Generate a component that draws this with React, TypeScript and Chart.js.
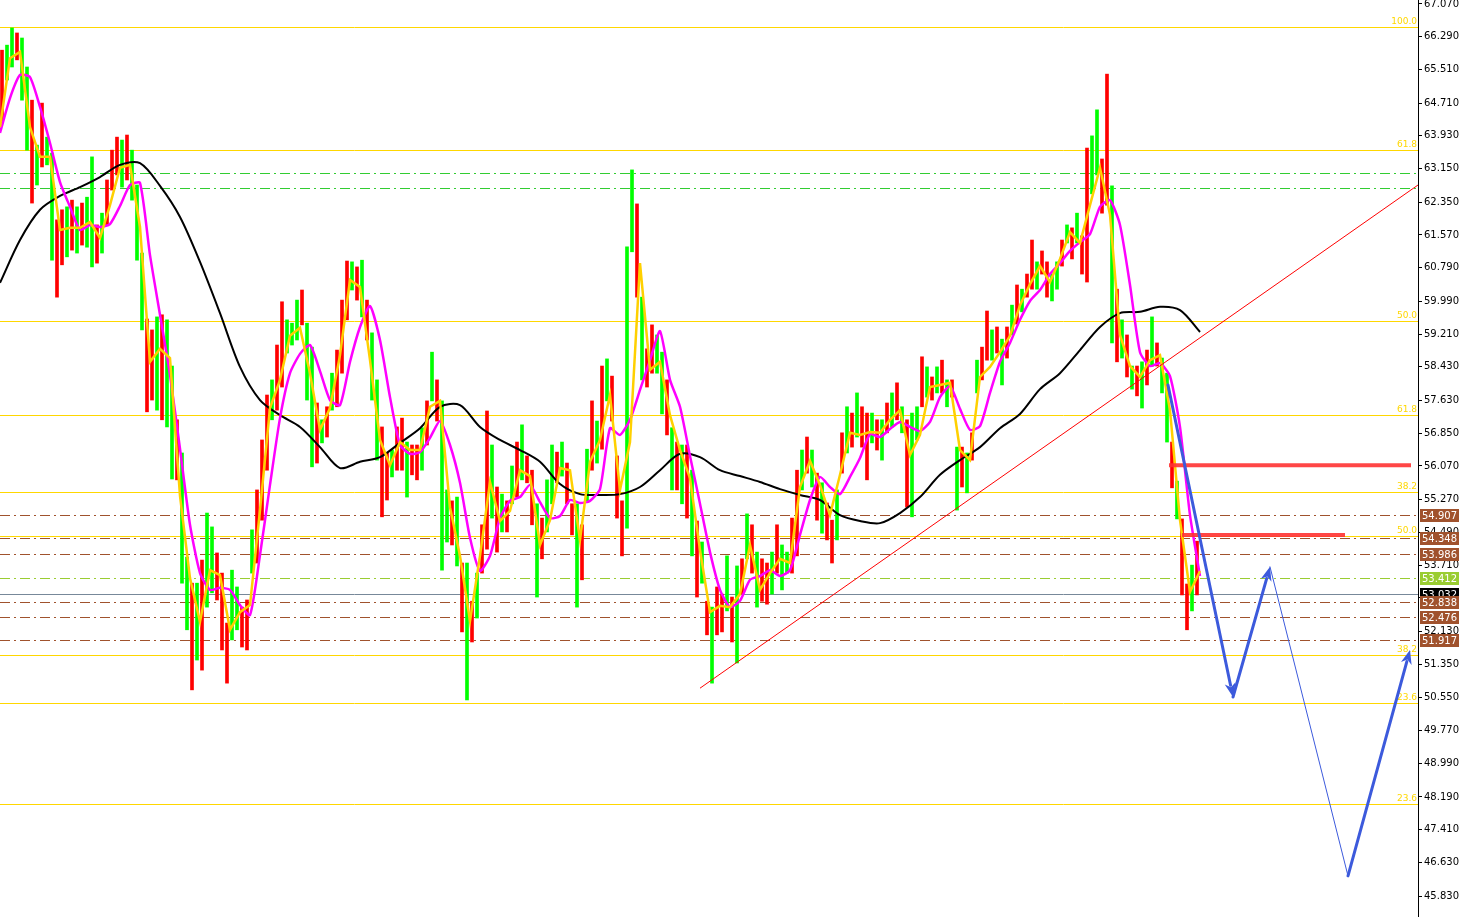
import React, { useEffect, useRef } from "react";
import { Chart, registerables } from "chart.js";
Chart.register(...registerables);

// ---- price bars (one bar per slot, slot width = 5 px in the reference) ----
const barHigh = [
  65.97, 66.09, 66.50, 66.38, 66.26, 65.57, 64.78, 63.71, 64.71, 63.90,
  63.52, 61.93, 62.17, 62.24, 62.40, 62.24, 62.33, 62.47, 63.43, 61.81,
  62.09, 62.88, 63.59, 63.90, 63.83, 63.95, 63.59, 62.76, 61.14, 59.57,
  59.31, 59.62, 59.67, 59.55, 58.45, 57.17, 56.38, 53.90, 53.28, 53.28,
  53.83, 54.95, 54.62, 54.00, 53.52, 52.33, 53.59, 53.19, 52.71, 52.88,
  54.55, 55.50, 56.69, 57.76, 58.12, 58.95, 59.98, 59.55, 59.47, 60.02,
  60.26, 59.47, 58.90, 57.57, 57.17, 57.48, 58.28, 58.83, 60.02, 60.95,
  60.93, 60.81, 60.97, 60.02, 59.24, 58.12, 57.00, 56.38, 56.45, 57.00,
  57.21, 56.64, 56.57, 56.57, 56.98, 57.62, 58.78, 58.12, 57.62, 55.50,
  55.24, 55.33, 53.76, 53.76, 52.85, 53.52, 54.67, 57.38, 56.57, 55.57,
  55.40, 55.24, 56.07, 56.64, 57.05, 56.31, 55.97, 55.17, 54.83, 55.74,
  56.57, 56.40, 56.64, 56.14, 55.17, 55.17, 54.67, 56.47, 57.62, 57.14,
  58.45, 58.62, 58.21, 56.31, 55.24, 61.29, 63.12, 62.31, 60.09, 58.86,
  59.43, 59.19, 58.78, 58.12, 56.98, 56.64, 56.57, 56.57, 55.97, 54.76,
  54.26, 52.85, 52.71, 53.19, 53.02, 53.93, 52.95, 53.69, 53.86, 54.93,
  54.67, 54.02, 53.86, 53.76, 54.02, 54.67, 54.19, 54.02, 54.83, 55.97,
  56.45, 56.76, 56.45, 55.90, 55.67, 55.19, 54.78, 55.50, 56.86, 57.48,
  57.33, 57.81, 57.48, 57.33, 57.33, 57.17, 57.17, 57.57, 57.81, 58.05,
  57.48, 57.17, 57.33, 57.48, 58.67, 58.43, 58.19, 58.43, 58.59, 58.12,
  58.12, 56.52, 56.52, 56.38, 56.86, 58.59, 58.90, 59.76, 59.31, 59.38,
  59.09, 59.38, 59.90, 60.38, 60.28, 60.64, 61.45, 60.93, 61.19, 60.93,
  60.64, 60.93, 61.45, 61.81, 61.74, 62.09, 61.55, 63.64, 63.93, 64.55,
  63.38, 65.40, 62.74, 60.28, 59.55, 59.19, 58.45, 58.45, 58.55, 58.83,
  59.62, 59.00, 58.64, 58.28, 56.64, 55.71, 54.81, 53.26, 53.71, 54.28,
];
const barLow = [
  64.24, 65.26, 65.57, 65.74, 64.78, 63.59, 62.33, 62.76, 63.19, 63.24,
  60.97, 60.09, 60.86, 61.05, 61.21, 61.14, 61.33, 61.28, 60.81, 60.90,
  61.14, 61.81, 62.64, 63.00, 62.71, 62.88, 62.40, 60.97, 59.31, 57.36,
  57.64, 57.40, 57.17, 57.00, 55.76, 55.74, 53.28, 52.17, 50.74, 51.45,
  51.21, 52.71, 53.05, 52.88, 51.69, 50.90, 51.93, 52.17, 51.76, 51.69,
  53.52, 53.76, 54.78, 55.97, 57.17, 57.40, 57.95, 58.76, 58.95, 59.07,
  59.43, 57.64, 56.05, 56.14, 56.62, 56.76, 57.40, 57.48, 58.28, 59.55,
  60.26, 60.02, 59.62, 59.07, 57.64, 56.21, 54.86, 55.26, 55.81, 55.97,
  55.97, 55.33, 55.86, 55.74, 55.97, 56.57, 57.62, 57.14, 53.59, 54.26,
  54.19, 53.69, 52.12, 50.50, 51.88, 52.45, 53.52, 54.09, 54.83, 54.02,
  54.50, 54.50, 55.17, 55.33, 55.74, 55.67, 54.67, 52.95, 53.86, 54.50,
  55.17, 55.67, 55.83, 55.17, 54.43, 52.71, 53.36, 55.24, 55.97, 56.14,
  56.47, 57.62, 57.14, 54.83, 53.93, 54.59, 61.17, 60.09, 58.12, 57.95,
  58.28, 58.28, 57.31, 56.81, 55.50, 55.50, 55.17, 54.83, 53.93, 52.95,
  53.28, 52.05, 50.90, 52.05, 52.12, 52.62, 51.88, 51.38, 53.02, 53.86,
  53.52, 52.71, 52.85, 52.78, 53.02, 53.52, 53.12, 53.52, 53.52, 53.93,
  55.50, 55.90, 55.57, 54.78, 54.47, 54.31, 53.76, 54.31, 55.90, 56.38,
  56.52, 56.76, 56.52, 55.74, 56.62, 56.45, 56.21, 56.86, 57.00, 57.17,
  56.86, 55.09, 54.86, 56.69, 57.48, 57.71, 57.64, 57.81, 57.81, 57.48,
  57.71, 55.02, 55.57, 55.43, 56.21, 57.81, 58.12, 58.59, 58.59, 58.76,
  58.00, 58.64, 59.19, 59.45, 59.74, 60.09, 60.28, 60.28, 60.64, 60.09,
  60.00, 60.28, 60.83, 61.38, 61.00, 61.38, 60.64, 60.45, 62.55, 63.00,
  62.09, 62.28, 59.00, 58.55, 58.64, 58.19, 57.90, 57.74, 57.45, 58.00,
  58.45, 58.45, 57.81, 56.64, 55.55, 54.81, 53.00, 52.17, 52.62, 53.00,
];
// u = up bar (green), d = down bar (red)
const barDir =
  "duuduududu" + "uddududuud" + "uddduduuud" + "duduuduudu" +
  "duuddduudd" + "udddudduuu" + "duudududdd" + "ududuuddud" +
  "duddududuu" + "dudududdud" + "udududdudu" + "ududdududu" +
  "duddduudud" + "duudududud" + "ududdududu" + "dudduduudd" +
  "udududdudu" + "duddududud" + "uduudududu" + "dudududdud" +
  "udududdudd" + "uudududduu" + "ddudududud" + "uduududdud";

// ---- moving averages (yellow & magenta every 2 slots, black every 4 slots) ----
const yellowMA = [
  64.14, 65.78, 65.93, 64.14, 63.43, 63.43, 61.69, 61.74, 61.74, 61.88,
  61.50, 62.28, 63.17, 63.24, 61.76, 58.55, 58.86, 58.64, 55.36, 53.40,
  52.36, 53.59, 53.47, 52.17, 52.59, 52.76, 55.02, 57.45, 58.12, 59.17,
  59.36, 58.28, 56.93, 57.45, 58.71, 60.50, 60.33, 58.59, 56.69, 56.09,
  56.64, 56.45, 56.45, 57.48, 57.62, 55.09, 53.93, 52.38, 53.93, 55.69,
  54.76, 55.00, 55.97, 55.83, 54.19, 54.78, 56.02, 55.97, 54.31, 56.17,
  56.69, 57.76, 55.50, 56.64, 60.90, 58.36, 58.55, 57.28, 56.45, 55.78,
  54.07, 52.59, 52.74, 52.71, 53.02, 54.19, 53.12, 53.52, 53.86, 53.76,
  55.57, 56.19, 55.62, 54.90, 55.86, 56.86, 56.81, 56.88, 56.86, 57.17,
  57.40, 56.33, 56.81, 57.95, 58.00, 58.05, 56.45, 56.21, 58.19, 58.43,
  58.78, 59.17, 59.90, 60.40, 60.83, 60.45, 61.00, 61.64, 61.38, 62.28,
  63.17, 62.05, 59.19, 58.45, 58.19, 58.59, 58.71, 57.40, 54.78, 53.07,
  53.57,
];
const magentaMA = [
  64.00, 64.83, 65.38, 65.33, 64.62, 63.76, 62.83, 62.24, 61.69, 61.81,
  61.76, 61.83, 62.26, 62.76, 62.81, 61.09, 59.67, 58.24, 56.48, 54.67,
  53.52, 53.12, 53.17, 53.12, 52.76, 52.52, 53.95, 55.62, 57.21, 58.28,
  58.74, 58.95, 58.33, 57.64, 57.52, 58.55, 59.38, 59.88, 59.07, 57.71,
  56.57, 56.36, 56.40, 56.74, 57.14, 56.57, 55.67, 54.36, 53.57, 53.93,
  54.83, 55.24, 55.33, 55.62, 55.21, 54.83, 54.88, 55.26, 55.19, 55.24,
  55.52, 56.97, 56.81, 57.17, 57.88, 58.59, 59.28, 58.12, 57.48, 56.31,
  55.17, 54.02, 53.12, 52.71, 52.86, 53.36, 53.45, 53.59, 53.45, 53.59,
  54.43, 55.26, 55.81, 55.57, 55.40, 55.81, 56.26, 56.83, 56.76, 56.95,
  57.12, 57.00, 56.90, 57.12, 57.71, 57.97, 57.43, 56.93, 57.02, 57.81,
  58.55, 59.00, 59.55, 60.00, 60.26, 60.64, 60.90, 61.19, 61.40, 61.59,
  62.24, 62.40, 61.81, 60.38, 58.78, 58.45, 58.52, 58.21, 57.00, 54.90,
  53.45,
];
const blackMA = [
  60.43, 61.45, 62.17, 62.50, 62.71, 62.95, 63.24, 63.28, 62.74, 62.00,
  60.93, 59.71, 58.43, 57.64, 57.28, 57.00, 56.52, 56.02, 56.17, 56.28,
  56.62, 56.97, 57.48, 57.52, 57.00, 56.69, 56.45, 56.17, 55.64, 55.40,
  55.38, 55.40, 55.57, 55.97, 56.36, 56.28, 55.97, 55.83, 55.69, 55.52,
  55.38, 55.26, 54.90, 54.76, 54.71, 54.95, 55.33, 55.86, 56.21, 56.52,
  56.97, 57.31, 57.90, 58.28, 58.83, 59.38, 59.71, 59.74, 59.86, 59.78,
  59.26,
];

// ---- axis ----
const yTicks = [
  67.07, 66.29, 65.51, 64.71, 63.93, 63.15, 62.35, 61.57, 60.79, 59.99,
  59.21, 58.43, 57.63, 56.85, 56.07, 55.27, 54.49, 53.71, 52.93, 52.13,
  51.35, 50.55, 49.77, 48.99, 48.19, 47.41, 46.63, 45.83,
];
const yMin = 45.332;
const yMax = 67.165;
const xSlots = 283.6;

// ---- levels ----
const fibPrices = [66.52, 63.59, 59.52, 57.28, 55.44, 54.41, 51.57, 50.43, 48.02];
const fibLabels = ["100.0", "61.8", "50.0", "61.8", "38.2", "50.0", "38.2", "23.6", "23.6"];
const greenLevels = [63.046, 62.689];
const brownLevels = [54.907, 54.348, 53.986, 52.838, 52.476, 51.917];
const limeLevel = 53.412;
const grayLevel = 53.032;
const boxPrices = [54.907, 54.348, 53.986, 53.412, 53.032, 52.838, 52.476, 51.917];
const boxColors = ["#A0522D", "#A0522D", "#A0522D", "#9ACD32", "#000000", "#A0522D", "#A0522D", "#A0522D"];
const redZonePrice = [56.09, 54.43];
const redZoneFrom = [233.8, 236.4];
const redZoneTo = [282.2, 269.0];
const trendX = [140, 283.6];
const trendY = [50.78, 62.76];
const arrowX = [233.6, 246.6, 254.0, 269.6, 282.0];
const arrowY = [58.0, 50.57, 53.67, 46.31, 51.69];
const arrowWidth = [3, 3, 1, 3];
const arrowHead = [true, true, false, true];

const AXIS_FONT = '10px "DejaVu Sans"';

const overlayPlugin = {
  id: "overlay",
  beforeDatasetsDraw(chart: any) {
    const { ctx, chartArea, scales } = chart;
    const ys = scales.y;
    ctx.save();
    ctx.beginPath();
    ctx.rect(chartArea.left, chartArea.top, chartArea.right - chartArea.left, chartArea.bottom - chartArea.top);
    ctx.clip();
    const hline = (p: number, color: string, dash: number[]) => {
      const py = Math.round(ys.getPixelForValue(p)) + 0.5;
      ctx.strokeStyle = color;
      ctx.lineWidth = 1;
      ctx.setLineDash(dash);
      ctx.beginPath();
      ctx.moveTo(chartArea.left, py);
      ctx.lineTo(chartArea.right, py);
      ctx.stroke();
    };
    fibPrices.forEach((p) => hline(p, "#FFD700", []));
    greenLevels.forEach((p) => hline(p, "#32CD32", [10, 4, 2, 4]));
    hline(limeLevel, "#9ACD32", [10, 4, 2, 4]);
    brownLevels.forEach((p) => hline(p, "#A0522D", [10, 4, 2, 4]));
    hline(grayLevel, "#778899", []);
    ctx.setLineDash([]);
    ctx.font = '9px "DejaVu Sans"';
    ctx.fillStyle = "#FFD700";
    ctx.textAlign = "right";
    ctx.textBaseline = "bottom";
    fibPrices.forEach((p, i) => {
      ctx.fillText(fibLabels[i], chartArea.right - 1, Math.round(ys.getPixelForValue(p)) - 1);
    });
    ctx.restore();
  },
  afterDatasetsDraw(chart: any) {
    const { ctx, chartArea, scales } = chart;
    const xs = scales.x;
    const ys = scales.y;
    ctx.save();
    ctx.beginPath();
    ctx.rect(chartArea.left, chartArea.top, chartArea.right - chartArea.left, chartArea.bottom - chartArea.top);
    ctx.clip();
    // trend line
    ctx.strokeStyle = "#FF0000";
    ctx.lineWidth = 1;
    ctx.beginPath();
    ctx.moveTo(xs.getPixelForValue(trendX[0]), ys.getPixelForValue(trendY[0]));
    ctx.lineTo(xs.getPixelForValue(trendX[1]), ys.getPixelForValue(trendY[1]));
    ctx.stroke();
    // red zones
    ctx.strokeStyle = "rgba(255,50,50,0.9)";
    ctx.lineWidth = 4;
    redZonePrice.forEach((p, i) => {
      const py = ys.getPixelForValue(p);
      ctx.beginPath();
      ctx.moveTo(xs.getPixelForValue(redZoneFrom[i]), py);
      ctx.lineTo(xs.getPixelForValue(redZoneTo[i]), py);
      ctx.stroke();
    });
    // blue arrows
    const blue = "#3C5ADC";
    for (let i = 0; i < arrowX.length - 1; i++) {
      const x1 = xs.getPixelForValue(arrowX[i]);
      const y1 = ys.getPixelForValue(arrowY[i]);
      const x2 = xs.getPixelForValue(arrowX[i + 1]);
      const y2 = ys.getPixelForValue(arrowY[i + 1]);
      const a = Math.atan2(y2 - y1, x2 - x1);
      const len = 14;
      const half = 5.5;
      const ex = arrowHead[i] ? x2 - Math.cos(a) * (len - 2) : x2;
      const ey = arrowHead[i] ? y2 - Math.sin(a) * (len - 2) : y2;
      ctx.strokeStyle = blue;
      ctx.lineWidth = arrowWidth[i];
      ctx.lineCap = "round";
      ctx.beginPath();
      ctx.moveTo(x1, y1);
      ctx.lineTo(ex, ey);
      ctx.stroke();
      if (arrowHead[i]) {
        const bx = x2 - Math.cos(a) * len;
        const by = y2 - Math.sin(a) * len;
        ctx.fillStyle = blue;
        ctx.beginPath();
        ctx.moveTo(x2, y2);
        ctx.lineTo(bx - Math.sin(a) * half, by + Math.cos(a) * half);
        ctx.lineTo(x2 - Math.cos(a) * (len - 4), y2 - Math.sin(a) * (len - 4));
        ctx.lineTo(bx + Math.sin(a) * half, by - Math.cos(a) * half);
        ctx.closePath();
        ctx.fill();
      }
    }
    ctx.restore();
  },
  afterDraw(chart: any) {
    const { ctx, chartArea, scales } = chart;
    const ys = scales.y;
    ctx.save();
    ctx.font = AXIS_FONT;
    ctx.textAlign = "left";
    ctx.textBaseline = "middle";
    boxPrices.forEach((p, i) => {
      const py = Math.round(ys.getPixelForValue(p));
      ctx.fillStyle = boxColors[i];
      ctx.fillRect(chartArea.right + 2, py - 6, 39, 13);
      ctx.fillStyle = "#FFFFFF";
      ctx.fillText(p.toFixed(3), chartArea.right + 4, py + 1);
    });
    ctx.restore();
  },
};

export default function App() {
  const ref = useRef<HTMLCanvasElement | null>(null);
  useEffect(() => {
    document.body.style.margin = "0";
    const canvas = ref.current;
    if (!canvas) return;
    const bars = barHigh.map((h, i) => ({ x: i + 0.4, y: [barLow[i], h] }));
    const barColors = barHigh.map((_, i) => (barDir[i] === "u" ? "#00FF00" : "#FF0000"));
    const chart = new Chart(canvas, {
      type: "bar",
      data: {
        datasets: [
          {
            type: "line",
            data: yellowMA.map((v, j) => ({ x: j * 2, y: v })),
            borderColor: "#FFD000",
            borderWidth: 2.5,
            pointRadius: 0,
            tension: 0,
            order: 0,
          } as any,
          {
            type: "line",
            data: magentaMA.map((v, j) => ({ x: j * 2, y: v })),
            borderColor: "#FF00FF",
            borderWidth: 2.5,
            pointRadius: 0,
            tension: 0.2,
            order: 1,
          } as any,
          {
            type: "line",
            data: blackMA.map((v, j) => ({ x: j * 4, y: v })),
            borderColor: "#000000",
            borderWidth: 2,
            pointRadius: 0,
            tension: 0.3,
            order: 2,
          } as any,
          {
            type: "bar",
            data: bars,
            backgroundColor: barColors,
            borderWidth: 0,
            borderSkipped: false,
            barThickness: 3,
            grouped: false,
            order: 3,
          } as any,
        ],
      },
      options: {
        responsive: false,
        animation: false,
        devicePixelRatio: 1,
        layout: { padding: 0 },
        plugins: { legend: { display: false }, tooltip: { enabled: false } },
        scales: {
          x: { type: "linear", min: 0, max: xSlots, display: false, offset: false },
          y: {
            position: "right",
            min: yMin,
            max: yMax,
            afterFit: (s: any) => {
              s.width = 44;
              s.paddingTop = 0;
              s.paddingBottom = 0;
            },
            afterBuildTicks: (s: any) => {
              s.ticks = yTicks.map((v) => ({ value: v }));
            },
            ticks: {
              autoSkip: false,
              padding: 2,
              color: "#000000",
              font: { family: "DejaVu Sans", size: 10 },
              callback: (v: any) => Number(v).toFixed(3),
            },
            grid: { display: true, drawOnChartArea: false, drawTicks: true, tickLength: 4, color: "#000000" },
            border: { display: true, color: "#000000", width: 1 },
          },
        },
      } as any,
      plugins: [overlayPlugin],
    });
    return () => chart.destroy();
  }, []);
  return (
    <div style={{ width: 1462, height: 917, background: "#FFFFFF" }}>
      <canvas ref={ref} width={1462} height={917} style={{ display: "block" }} />
    </div>
  );
}
